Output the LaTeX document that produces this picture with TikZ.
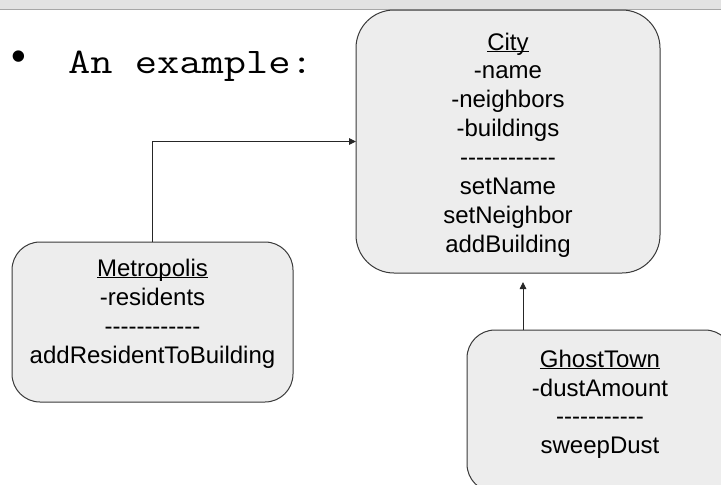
\documentclass[tikz,border=0pt]{standalone}
\usepackage{fontspec}
\setmainfont{Liberation Sans}
\setmonofont{Latin Modern Mono}[FakeStretch=1.2]
\usetikzlibrary{arrows.meta}
\definecolor{boxfill}{HTML}{EDEDED}
\definecolor{boxline}{HTML}{3A3A3A}
\definecolor{band}{HTML}{E2E2E2}
\newcommand\hy{-\kern0pt}
\newcommand\dashline[1]{\foreach \i in {1,...,#1}{\hy}}
\begin{document}
\begin{tikzpicture}[x=1pt,y=-1pt,
  umlbox/.style={draw=boxline, line width=1pt, fill=boxfill, inner sep=0pt, outer sep=0pt},
  ln/.style={anchor=base, inner sep=0pt, font=\fontsize{24}{28.8}\selectfont},
  conn/.style={draw=black!85, line width=0.9pt, -{Triangle[length=7pt,width=6.5pt]}}]
\path[use as bounding box] (0,0) rectangle (721,485);
\clip (0,0) rectangle (721,485);
\fill[white] (0,0) rectangle (721,485);
\fill[band] (0,0) rectangle (721,9.5);
\draw[gray!70, line width=0.8pt] (0,9.5) -- (721,9.5);

% bullet text
\node[anchor=center, inner sep=0pt, font=\fontsize{42}{44}\selectfont] (bul) at (18.5,61) {•};
\node[anchor=base west, inner sep=0pt, font=\ttfamily\fontsize{36}{40}\selectfont] (ex) at (68,73) {An example:};

% boxes
\node[umlbox, rounded corners=38pt, minimum width=304pt, minimum height=263pt] (city) at (508,141.5) {};
\node[umlbox, rounded corners=28pt, minimum width=281pt, minimum height=160pt] (metro) at (152.5,322) {};
\node[umlbox, rounded corners=28pt, minimum width=266pt, minimum height=162pt] (ghost) at (600,411) {};

% City text
\node[ln] (c1) at (508,50) {\underbar{City}};
\node[ln] (c2) at (508,78.9) {-name};
\node[ln] (c3) at (508,107.7) {-neighbors};
\node[ln] (c4) at (508,136.6) {-buildings};
\node[ln] (c5) at (508,165.4) {\dashline{12}};
\node[ln] (c6) at (508,194.3) {setName};
\node[ln] (c7) at (508,223.2) {setNeighbor};
\node[ln] (c8) at (508,252) {addBuilding};

% Metropolis text
\node[ln] (m1) at (152.5,276) {\underbar{Metropolis}};
\node[ln] (m2) at (152.5,305) {-residents};
\node[ln] (m3) at (152.5,334) {\dashline{12}};
\node[ln] (m4) at (152.5,363) {addResidentToBuilding};

% GhostTown text
\node[ln] (g1) at (600,367) {\underbar{GhostTown}};
\node[ln] (g2) at (600,396) {-dustAmount};
\node[ln] (g3) at (600,424.5) {\dashline{11}};
\node[ln] (g4) at (600,453) {sweepDust};

% connectors
\draw[conn] (metro.north) |- (city.west);
\coordinate (gx) at (523,0);
\draw[conn, shorten >=9pt] (ghost.north -| gx) -- (city.south -| gx);
\end{tikzpicture}
\end{document}
